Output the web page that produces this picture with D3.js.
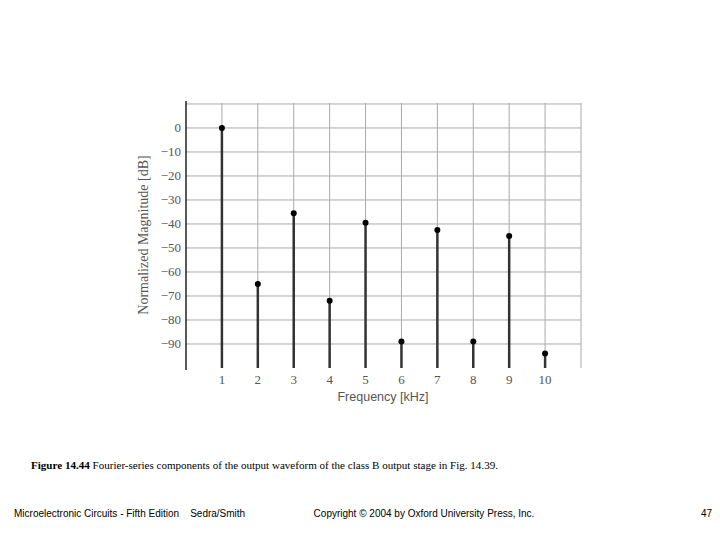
<!DOCTYPE html>
<html><head><meta charset="utf-8">
<script src="https://cdn.jsdelivr.net/npm/d3@7"></script>
<style>body{margin:0;background:#fff}</style>
</head><body>
<script>
// Harmonic data
const harmonics = [1, 2, 3, 4, 5, 6, 7, 8, 9, 10];
const magnitudes = [0, -65, -35.5, -72, -39.5, -89, -42.5, -89, -45, -94];
const dbTicks = [0, -10, -20, -30, -40, -50, -60, -70, -80, -90];

const svg = d3.select('body').append('svg').attr('width', 720).attr('height', 540);

const x = d3.scaleLinear().domain([0, 11]).range([186, 581]);
const y = d3.scaleLinear().domain([10.4, -100]).range([103, 368]);

// grid
svg.append('g').selectAll('line').data(dbTicks.concat([10])).join('line')
  .attr('x1', 186).attr('x2', 581)
  .attr('y1', d => y(d)).attr('y2', d => y(d))
  .attr('stroke', '#aaa').attr('stroke-width', 1);
svg.append('g').selectAll('line').data(harmonics.concat([11])).join('line')
  .attr('x1', d => x(d)).attr('x2', d => x(d))
  .attr('y1', 103).attr('y2', 368)
  .attr('stroke', '#aaa').attr('stroke-width', 1);

// axes
svg.append('line').attr('x1', 186).attr('x2', 186).attr('y1', 101).attr('y2', 370)
  .attr('stroke', '#000').attr('stroke-width', 1.3);
svg.append('g').selectAll('text').data(dbTicks).join('text')
  .attr('x', 181).attr('y', d => y(d) + 4).attr('text-anchor', 'end')
  .attr('font-family', 'Liberation Serif').attr('font-size', 13).attr('fill', '#555')
  .text(d => d === 0 ? '0' : '\u2212' + Math.abs(d));
svg.append('g').selectAll('text').data(harmonics).join('text')
  .attr('x', d => x(d)).attr('y', 384).attr('text-anchor', 'middle')
  .attr('font-family', 'Liberation Serif').attr('font-size', 13).attr('fill', '#555')
  .text(d => d);
svg.append('text').attr('transform', 'translate(148,235) rotate(-90)')
  .attr('text-anchor', 'middle').attr('font-family', 'Liberation Serif')
  .attr('font-size', 14).attr('fill', '#555').text('Normalized Magnitude [dB]');
svg.append('text').attr('x', 383).attr('y', 401).attr('text-anchor', 'middle')
  .attr('font-family', 'Liberation Sans').attr('font-size', 12.5).attr('fill', '#555')
  .text('Frequency [kHz]');

// stems
const data = harmonics.map((h, i) => ({h, v: magnitudes[i]}));
svg.append('g').selectAll('line').data(data).join('line')
  .attr('x1', d => x(d.h)).attr('x2', d => x(d.h))
  .attr('y1', d => y(d.v)).attr('y2', 368)
  .attr('stroke', '#333').attr('stroke-width', 2.5);
svg.append('g').selectAll('circle').data(data).join('circle')
  .attr('cx', d => x(d.h)).attr('cy', d => y(d.v)).attr('r', 3).attr('fill', '#000');

// captions
svg.append('text').attr('x', 31).attr('y', 469)
  .attr('font-family', 'Liberation Serif').attr('font-size', 11)
  .attr('textLength', 467).attr('lengthAdjust', 'spacingAndGlyphs')
  .html('<tspan font-weight="bold">Figure 14.44</tspan> Fourier-series components of the output waveform of the class B output stage in Fig. 14.39.');
const foot = [[14, 'Microelectronic Circuits - Fifth Edition    Sedra/Smith', 'start'],
  [424, 'Copyright \u00a9 2004 by Oxford University Press, Inc.', 'middle'],
  [712, '47', 'end']];
svg.append('g').selectAll('text').data(foot).join('text')
  .attr('x', d => d[0]).attr('y', 517).attr('text-anchor', d => d[2])
  .attr('font-family', 'Liberation Sans').attr('font-size', 10).attr('xml:space', 'preserve')
  .style('white-space', 'pre').text(d => d[1]);
</script>
</body></html>
